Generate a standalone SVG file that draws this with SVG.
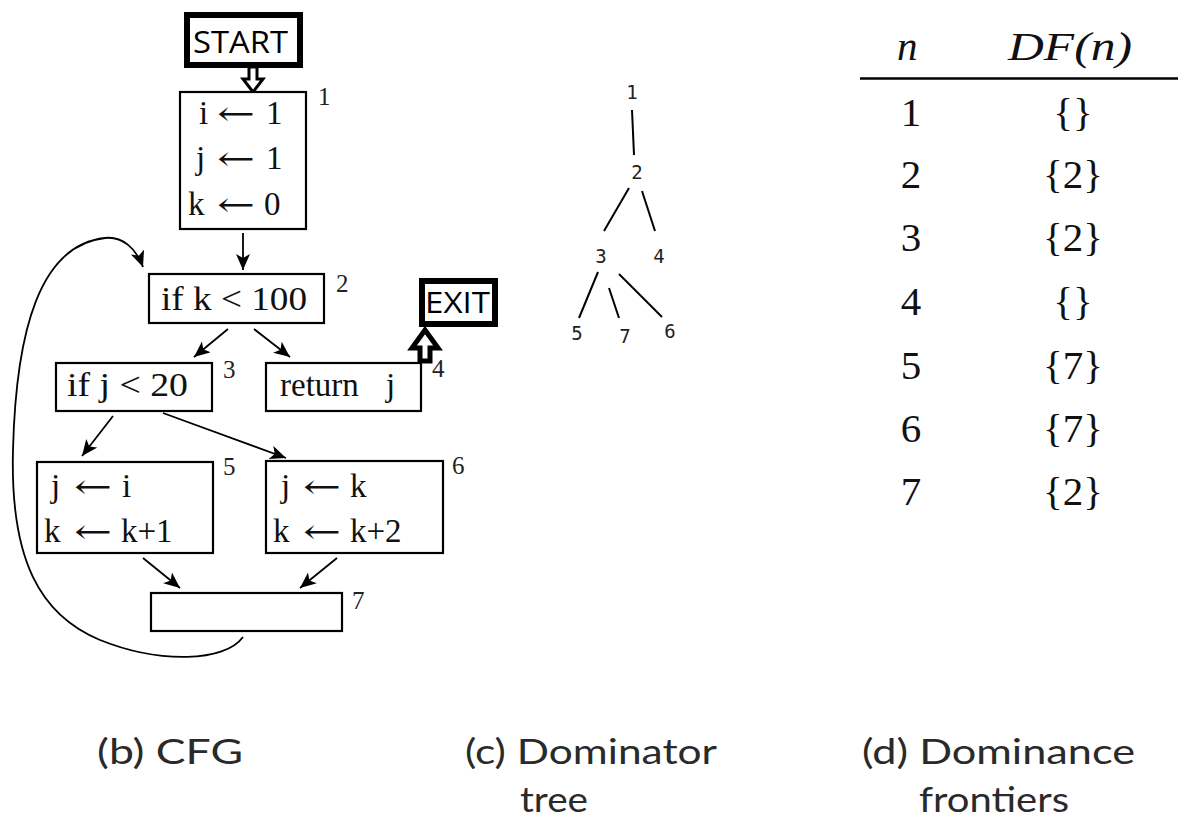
<svg xmlns="http://www.w3.org/2000/svg" width="1184" height="822" viewBox="0 0 1184 822">
<style>
.box{fill:#fff;stroke:#000;stroke-width:2.2}
.tbox{fill:#fff;stroke:#000;stroke-width:6}
.hol{fill:#fff;stroke:#000;stroke-linejoin:miter}
.t{font-family:"Liberation Serif","Times New Roman",serif;font-size:33px;fill:#111}
.ar{font-family:"DejaVu Serif","Liberation Serif",serif;font-size:34px;fill:#111}
.lab{font-family:"Liberation Serif","Times New Roman",serif;font-size:25px;fill:#222}
.sans{font-family:"Open Sans","Liberation Sans",sans-serif;fill:#000}
.mono{font-family:"DejaVu Sans Mono","Liberation Mono",monospace;font-size:19px;fill:#222;text-anchor:middle}
.tab{font-family:"Liberation Serif","Times New Roman",serif;font-size:41px;fill:#111}
.cap{font-family:Lato,"Open Sans",sans-serif;font-size:35px;fill:#2a2a2a}
.e{fill:none;stroke:#000;stroke-width:1.8}
.tl{fill:none;stroke:#000;stroke-width:2}
</style>
<defs>
<marker id="ah" markerUnits="userSpaceOnUse" markerWidth="18" markerHeight="16" refX="16" refY="7" orient="auto">
<path d="M0,0 L16,7 L0,14 L4,7 Z" fill="#000"/>
</marker>
</defs>

<g id="connectors">
<polygon class="hol" stroke-width="3" points="249,67 257,67 257,79 263,79 253,92 243,79 249,79"/>
<polygon class="hol" stroke-width="5" points="425,330 438,348 430,348 430,361 420,361 420,348 412,348"/>
<path class="e" marker-end="url(#ah)" d="M243,233 L243,270"/>
<path class="e" marker-end="url(#ah)" d="M228,329 L194,357"/>
<path class="e" marker-end="url(#ah)" d="M254,329 L290,357"/>
<path class="e" marker-end="url(#ah)" d="M113,416 L82,456"/>
<path class="e" marker-end="url(#ah)" d="M163,413 L286,458"/>
<path class="e" marker-end="url(#ah)" d="M143,558 L180,588"/>
<path class="e" marker-end="url(#ah)" d="M337,558 L300,588"/>
<path class="e" marker-end="url(#ah)" d="M243,637 C225,662 160,664 100,640 C40,615 10,560 13,450 C16,330 40,245 105,238 C122,236 136,248 143,267"/>
</g>

<g id="start">
<rect class="tbox" x="187" y="15" width="113" height="50"/>
<text class="sans" x="193" y="53" font-size="31" textLength="95" lengthAdjust="spacingAndGlyphs">START</text>
</g>

<g id="n1">
<rect class="box" x="180" y="92" width="126" height="137"/>
<text class="t" x="199" y="124">i</text><text class="ar" x="217" y="125" textLength="38" lengthAdjust="spacingAndGlyphs">←</text><text class="t" x="266" y="124">1</text>
<text class="t" x="196" y="169">j</text><text class="ar" x="217" y="170" textLength="38" lengthAdjust="spacingAndGlyphs">←</text><text class="t" x="266" y="169">1</text>
<text class="t" x="188" y="215">k</text><text class="ar" x="217" y="216" textLength="38" lengthAdjust="spacingAndGlyphs">←</text><text class="t" x="264" y="215">0</text>
<text class="lab" x="318" y="105">1</text>
</g>

<g id="n2">
<rect class="box" x="149" y="274" width="175" height="49"/>
<text class="t" x="161" y="310" textLength="146" lengthAdjust="spacingAndGlyphs">if k &lt; 100</text>
<text class="lab" x="336" y="292">2</text>
</g>

<g id="n3">
<rect class="box" x="56" y="363" width="156" height="48"/>
<text class="t" x="67" y="396" textLength="121" lengthAdjust="spacingAndGlyphs">if j &lt; 20</text>
<text class="lab" x="223" y="378">3</text>
</g>

<g id="n4">
<rect class="box" x="266" y="363" width="155" height="48"/>
<text class="t" x="280" y="396">return</text><text class="t" x="386" y="396">j</text>
<text class="lab" x="432" y="377">4</text>
</g>

<g id="exit">
<rect class="tbox" x="422" y="281" width="73" height="43"/>
<text class="sans" x="425" y="313" font-size="29" textLength="65" lengthAdjust="spacingAndGlyphs">EXIT</text>
</g>

<g id="n5">
<rect class="box" x="37" y="462" width="176" height="91"/>
<text class="t" x="51" y="497">j</text><text class="ar" x="74" y="498" textLength="38" lengthAdjust="spacingAndGlyphs">←</text><text class="t" x="122" y="497">i</text>
<text class="t" x="44" y="542">k</text><text class="ar" x="74" y="543" textLength="38" lengthAdjust="spacingAndGlyphs">←</text><text class="t" x="121" y="542">k+1</text>
<text class="lab" x="223" y="475">5</text>
</g>

<g id="n6">
<rect class="box" x="266" y="461" width="177" height="92"/>
<text class="t" x="281" y="497">j</text><text class="ar" x="303" y="498" textLength="38" lengthAdjust="spacingAndGlyphs">←</text><text class="t" x="350" y="497">k</text>
<text class="t" x="273" y="542">k</text><text class="ar" x="303" y="543" textLength="38" lengthAdjust="spacingAndGlyphs">←</text><text class="t" x="350" y="542">k+2</text>
<text class="lab" x="452" y="474">6</text>
</g>

<g id="n7">
<rect class="box" x="151" y="593" width="191" height="38"/>
<text class="lab" x="352" y="609">7</text>
</g>

<g id="domtree">
<g class="tl">
<path d="M632,110 L634,155"/>
<path d="M629,188 L604,231"/>
<path d="M642,191 L655,231"/>
<path d="M598,272 L579,318"/>
<path d="M609,288 L619,318"/>
<path d="M619,274 L662,317"/>
</g>
<text class="mono" x="632" y="99">1</text>
<text class="mono" x="637" y="179">2</text>
<text class="mono" x="601" y="263">3</text>
<text class="mono" x="659" y="263">4</text>
<text class="mono" x="577" y="340">5</text>
<text class="mono" x="625" y="343">7</text>
<text class="mono" x="670" y="338">6</text>
</g>

<g id="table">
<text class="tab" x="897" y="60" font-style="italic" font-size="38">n</text>
<text class="tab" x="1008" y="60" font-style="italic" font-size="38" textLength="124" lengthAdjust="spacingAndGlyphs">DF(n)</text>
<line x1="860" y1="78.5" x2="1178" y2="78.5" stroke="#000" stroke-width="2.5"/>
<g text-anchor="middle">
<text class="tab" x="911" y="126">1</text><text class="tab" x="1073" y="126">{}</text>
<text class="tab" x="911" y="188">2</text><text class="tab" x="1073" y="188">{2}</text>
<text class="tab" x="911" y="251">3</text><text class="tab" x="1073" y="251">{2}</text>
<text class="tab" x="911" y="315">4</text><text class="tab" x="1073" y="315">{}</text>
<text class="tab" x="911" y="379">5</text><text class="tab" x="1073" y="379">{7}</text>
<text class="tab" x="911" y="442">6</text><text class="tab" x="1073" y="442">{7}</text>
<text class="tab" x="911" y="505">7</text><text class="tab" x="1073" y="505">{2}</text>
</g>
</g>

<g id="captions">
<text class="cap" x="97" y="764" textLength="146" lengthAdjust="spacingAndGlyphs">(b) CFG</text>
<text class="cap" x="465" y="764" textLength="252" lengthAdjust="spacingAndGlyphs">(c) Dominator</text>
<text class="cap" x="520" y="812" textLength="68" lengthAdjust="spacingAndGlyphs">tree</text>
<text class="cap" x="862" y="764" textLength="273" lengthAdjust="spacingAndGlyphs">(d) Dominance</text>
<text class="cap" x="919" y="812" textLength="150" lengthAdjust="spacingAndGlyphs">frontiers</text>
</g>
</svg>
